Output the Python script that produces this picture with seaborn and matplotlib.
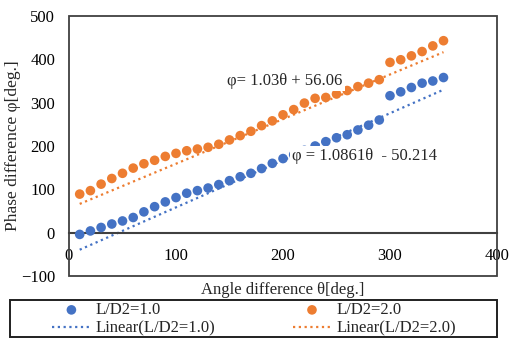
import numpy as np
import pandas as pd
import matplotlib
matplotlib.use("Agg")
import matplotlib.pyplot as plt
from matplotlib.patches import Rectangle
import seaborn as sns

sns.set_style("white")
plt.rcParams["font.family"] = ["Liberation Serif", "DejaVu Serif"]

# ---- data ----
theta = [10, 20, 30, 40, 50, 60, 70, 80, 90, 100, 110, 120, 130, 140, 150, 160, 170, 180,
         190, 200, 210, 220, 230, 240, 250, 260, 270, 280, 290, 300, 310, 320, 330, 340, 350]
phi_ld1 = [-4, 4, 12, 20, 27, 35, 48, 60, 71, 81, 91, 97, 103, 111, 120, 129, 137, 148,
           160, 171, 180, 190, 200, 210, 219, 226, 237, 248, 260, 316, 325, 335, 345, 350, 358]
phi_ld2 = [89, 97, 112, 125, 137, 149, 159, 167, 176, 183, 189, 193, 197, 204, 214, 224, 234, 247,
           258, 272, 284, 299, 310, 312, 320, 328, 337, 345, 353, 393, 399, 408, 418, 431, 443]

series_names = ["L/D2=1.0", "L/D2=2.0"]
fit_slope = [1.0861, 1.03]
fit_intercept = [-50.214, 56.06]
fit_labels = ["φ = 1.0861θ  - 50.214", "φ= 1.03θ + 56.06"]
colors = ["#4472C4", "#ED7D31"]

df = pd.DataFrame({"theta": theta, "L/D2=1.0": phi_ld1, "L/D2=2.0": phi_ld2})

# ---- figure ----
fig = plt.figure(figsize=(5.1, 3.58), dpi=100)
ax = fig.add_axes([69 / 510, 82 / 358, 428 / 510, 260 / 358])

handles = []
for name, m, b, col in zip(series_names, fit_slope, fit_intercept, colors):
    sns.scatterplot(data=df, x="theta", y=name, ax=ax, color=col, s=48,
                    edgecolor="none", zorder=3)
    h_pt = ax.collections[-1]
    xs = np.array([theta[0], theta[-1]])
    sns.lineplot(x=xs, y=m * xs + b, ax=ax, color=col, lw=1.6,
                 linestyle=(0, (1, 1.6)), zorder=2)
    h_ln = ax.lines[-1]
    handles += [(h_pt, name), (h_ln, f"Linear({name})")]

# trendline equations
ax.text(276, 176, fit_labels[0], fontsize=12, ha="center", va="center", zorder=5,
        bbox=dict(facecolor="white", edgecolor="none", pad=1.5))
ax.text(202, 350, fit_labels[1], fontsize=12, ha="center", va="center", zorder=5,
        bbox=dict(facecolor="white", edgecolor="none", pad=1.5))

ax.set_xlim(0, 400)
ax.set_ylim(-100, 500)
ax.set_xticks([0, 100, 200, 300, 400])
ax.set_yticks([-100, 0, 100, 200, 300, 400, 500])

# Excel style: horizontal axis crosses at zero, box around plot area
for side in ["top", "right", "left"]:
    ax.spines[side].set_visible(False)
ax.spines["bottom"].set_position(("data", 0))
ax.spines["bottom"].set_color("#404040")
ax.spines["bottom"].set_linewidth(1.5)
ax.add_patch(Rectangle((0, 0), 1, 1, transform=ax.transAxes, fill=False,
                       edgecolor="#404040", lw=1.3, clip_on=False, zorder=6))

ax.tick_params(axis="both", length=0, labelsize=12, colors="black")
ax.tick_params(axis="x", pad=11)
ax.tick_params(axis="y", pad=10)

ax.set_xlabel("Angle difference θ[deg.]", fontsize=12)
ax.set_ylabel("Phase difference φ[deg.]", fontsize=12.5)
ax.xaxis.set_label_coords(0.5, -0.025)
ax.yaxis.set_label_coords(-0.112, 0.5)

# legend in a box below the plot
fig.patches.append(Rectangle((10 / 510, 21 / 358), 487 / 510, 37 / 358,
                             transform=fig.transFigure, fill=False,
                             edgecolor="#202020", lw=1.4))
fig.legend([h for h, _ in handles], [l for _, l in handles], ncol=2,
           loc="center", bbox_to_anchor=(254 / 510, 38.5 / 358),
           frameon=False, fontsize=12, handlelength=2.3, handletextpad=0.3,
           columnspacing=4.65, labelspacing=0.15, borderpad=0)

fig.savefig("out.png", dpi=100)
